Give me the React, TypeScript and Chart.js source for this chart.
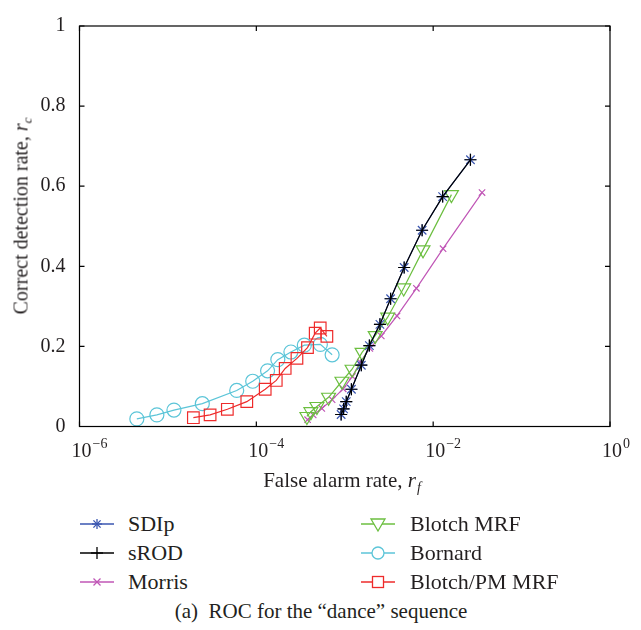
import React, { useEffect, useRef } from "react";
import { Chart, registerables } from "chart.js";

Chart.register(...registerables);

// ---- data ----
const xTickValues = [1e-6, 1e-4, 1e-2, 1];
const xTickExponents = ["\u22126", "\u22124", "\u22122", "0"];
const yTickValues = [0, 0.2, 0.4, 0.6, 0.8, 1];
const yTickLabels = ["0", "0.2", "0.4", "0.6", "0.8", "1"];

const sdipX = [0.00091, 0.00097, 0.00104, 0.00119, 0.00154, 0.0019, 0.0025, 0.0033, 0.0047, 0.0075, 0.0128, 0.0264];
const sdipY = [0.030, 0.044, 0.062, 0.093, 0.153, 0.202, 0.255, 0.319, 0.397, 0.490, 0.574, 0.666];

const srodX = [0.00091, 0.00097, 0.00104, 0.00119, 0.00154, 0.0019, 0.0025, 0.0033, 0.0047, 0.0075, 0.0128, 0.0264];
const srodY = [0.030, 0.044, 0.062, 0.093, 0.153, 0.202, 0.255, 0.319, 0.397, 0.490, 0.574, 0.666];

const morrisX = [0.00038, 0.00044, 0.00055, 0.00072, 0.00096, 0.00122, 0.0015, 0.00192, 0.00259, 0.0039, 0.00646, 0.01294, 0.0357];
const morrisY = [0.017, 0.029, 0.045, 0.067, 0.094, 0.125, 0.161, 0.195, 0.226, 0.276, 0.345, 0.444, 0.584];

const blotchX = [0.000373, 0.000414, 0.000484, 0.000656, 0.00093, 0.00121, 0.00157, 0.00221, 0.00306, 0.00464, 0.00768, 0.0161];
const blotchY = [0.025, 0.037, 0.050, 0.073, 0.113, 0.143, 0.185, 0.227, 0.273, 0.346, 0.441, 0.579];

const bornardX = [4.45e-6, 7.5e-6, 1.17e-5, 2.45e-5, 6.0e-5, 9.1e-5, 1.34e-4, 1.75e-4, 2.46e-4, 3.49e-4, 5.3e-4, 7.2e-4];
const bornardY = [0.019, 0.029, 0.041, 0.057, 0.090, 0.113, 0.139, 0.167, 0.186, 0.203, 0.205, 0.179];

const pmX = [1.94e-5, 3.0e-5, 4.7e-5, 7.8e-5, 1.26e-4, 1.68e-4, 2.12e-4, 2.88e-4, 3.79e-4, 4.63e-4, 5.28e-4, 6.28e-4];
const pmY = [0.022, 0.029, 0.043, 0.062, 0.093, 0.115, 0.145, 0.170, 0.197, 0.233, 0.246, 0.225];

const C_SDIP = "#3a56b0";
const C_SROD = "#000000";
const C_MORRIS = "#c056b6";
const C_BLOTCH = "#6cbf40";
const C_BORNARD = "#5cc5d8";
const C_PM = "#ee2b2b";

const FONT = "'Liberation Serif', 'DejaVu Serif', serif";
const TEXT = "#231f20";

const pts = (xs: number[], ys: number[]) => xs.map((x, i) => ({ x, y: ys[i] }));

const framePlugin = {
  id: "frame",
  afterDraw(chart: any) {
    const { ctx, chartArea: a, scales } = chart;
    ctx.save();
    ctx.strokeStyle = "#000";
    ctx.lineWidth = 1.2;
    ctx.strokeRect(a.left, a.top, a.right - a.left, a.bottom - a.top);
    const L = 5;
    ctx.beginPath();
    xTickValues.forEach((v) => {
      const px = scales.x.getPixelForValue(v);
      ctx.moveTo(px, a.bottom);
      ctx.lineTo(px, a.bottom - L);
      ctx.moveTo(px, a.top);
      ctx.lineTo(px, a.top + L);
    });
    yTickValues.forEach((v) => {
      const py = scales.y.getPixelForValue(v);
      ctx.moveTo(a.left, py);
      ctx.lineTo(a.left + L, py);
      ctx.moveTo(a.right, py);
      ctx.lineTo(a.right - L, py);
    });
    ctx.stroke();
    // x tick labels with superscript exponents
    ctx.fillStyle = TEXT;
    ctx.textBaseline = "alphabetic";
    xTickValues.forEach((v, i) => {
      const px = scales.x.getPixelForValue(v);
      ctx.font = `20px ${FONT}`;
      const bw = ctx.measureText("10").width;
      const bx = px - bw / 2 + 2;
      const by = a.bottom + 30;
      ctx.textAlign = "left";
      ctx.fillText("10", bx, by);
      ctx.font = `14px ${FONT}`;
      ctx.fillText(xTickExponents[i], bx + bw + 1, by - 9);
    });
    ctx.restore();
  },
};

function LegendMark({ kind, color }: { kind: string; color: string }) {
  const cx = 17, cy = 10;
  let m: any = null;
  if (kind === "star") {
    m = (
      <g stroke={color} strokeWidth={1.3}>
        <line x1={cx - 5} y1={cy} x2={cx + 5} y2={cy} />
        <line x1={cx} y1={cy - 5} x2={cx} y2={cy + 5} />
        <line x1={cx - 3.6} y1={cy - 3.6} x2={cx + 3.6} y2={cy + 3.6} />
        <line x1={cx - 3.6} y1={cy + 3.6} x2={cx + 3.6} y2={cy - 3.6} />
      </g>
    );
  } else if (kind === "plus") {
    m = (
      <g stroke={color} strokeWidth={1.3}>
        <line x1={cx - 6} y1={cy} x2={cx + 6} y2={cy} />
        <line x1={cx} y1={cy - 6} x2={cx} y2={cy + 6} />
      </g>
    );
  } else if (kind === "x") {
    m = (
      <g stroke={color} strokeWidth={1.3}>
        <line x1={cx - 3.5} y1={cy - 3.5} x2={cx + 3.5} y2={cy + 3.5} />
        <line x1={cx - 3.5} y1={cy + 3.5} x2={cx + 3.5} y2={cy - 3.5} />
      </g>
    );
  } else if (kind === "tri") {
    m = <polygon points={`${cx - 7},${cy - 5} ${cx + 7},${cy - 5} ${cx},${cy + 7}`} fill="#fff" stroke={color} strokeWidth={1.3} />;
  } else if (kind === "circle") {
    m = <circle cx={cx} cy={cy} r={6} fill="#fff" stroke={color} strokeWidth={1.3} />;
  } else if (kind === "square") {
    m = <rect x={cx - 5.5} y={cy - 5.5} width={11} height={11} fill="#fff" stroke={color} strokeWidth={1.3} />;
  }
  return (
    <svg width={36} height={20} style={{ display: "block" }}>
      <line x1={0} y1={cy} x2={34} y2={cy} stroke={color} strokeWidth={1.5} />
      {m}
    </svg>
  );
}

const legendItems = [
  { label: "SDIp", kind: "star", color: C_SDIP, col: 0, row: 0 },
  { label: "sROD", kind: "plus", color: C_SROD, col: 0, row: 1 },
  { label: "Morris", kind: "x", color: C_MORRIS, col: 0, row: 2 },
  { label: "Blotch MRF", kind: "tri", color: C_BLOTCH, col: 1, row: 0 },
  { label: "Bornard", kind: "circle", color: C_BORNARD, col: 1, row: 1 },
  { label: "Blotch/PM MRF", kind: "square", color: C_PM, col: 1, row: 2 },
];

export default function App() {
  const ref = useRef<HTMLCanvasElement | null>(null);

  useEffect(() => {
    if (!ref.current) return;
    const common = { showLine: true, borderWidth: 1.2, pointBorderWidth: 1.2, pointBackgroundColor: "rgba(0,0,0,0)", pointHoverRadius: 0 };
    const chart = new Chart(ref.current, {
      type: "scatter",
      data: {
        datasets: [
          { ...common, label: "sROD", data: pts(srodX, srodY), borderColor: C_SROD, pointBorderColor: C_SROD, pointStyle: "cross", pointRadius: 6, order: 0 },
          { ...common, label: "SDIp", data: pts(sdipX, sdipY), borderColor: C_SDIP, pointBorderColor: C_SDIP, pointStyle: "star", pointRadius: 6, order: 1 },
          { ...common, label: "Morris", data: pts(morrisX, morrisY), borderColor: C_MORRIS, pointBorderColor: C_MORRIS, pointStyle: "crossRot", pointRadius: 4.5, order: 4 },
          { ...common, label: "Blotch MRF", data: pts(blotchX, blotchY), borderColor: C_BLOTCH, pointBorderColor: C_BLOTCH, pointStyle: "triangle", pointRotation: 180, pointRadius: 8, order: 3 },
          { ...common, label: "Bornard", data: pts(bornardX, bornardY), borderColor: C_BORNARD, pointBorderColor: C_BORNARD, pointStyle: "circle", pointRadius: 7, order: 6 },
          { ...common, label: "Blotch/PM MRF", data: pts(pmX, pmY), borderColor: C_PM, pointBorderColor: C_PM, pointStyle: "rect", pointRadius: 8.2, order: 5 },
        ] as any,
      },
      options: {
        animation: false,
        responsive: false,
        events: [],
        layout: { autoPadding: false, padding: { left: 0, top: 11, right: 31, bottom: 0 } } as any,
        plugins: { legend: { display: false }, tooltip: { enabled: false } },
        scales: {
          x: {
            type: "logarithmic",
            min: 1e-6,
            max: 1,
            grid: { display: false, drawTicks: false },
            border: { display: false },
            ticks: { display: false },
            afterBuildTicks: (s: any) => {
              s.ticks = xTickValues.map((v) => ({ value: v }));
            },
            afterFit: (s: any) => {
              s.height = 53.5;
            },
          },
          y: {
            type: "linear",
            min: 0,
            max: 1,
            grid: { display: false, drawTicks: false },
            border: { display: false },
            afterBuildTicks: (s: any) => {
              s.ticks = yTickValues.map((v) => ({ value: v }));
            },
            ticks: {
              padding: 14,
              color: TEXT,
              font: { family: FONT, size: 20 },
              callback: (v: any) => {
                const i = yTickValues.findIndex((t) => Math.abs(t - Number(v)) < 1e-9);
                return i >= 0 ? yTickLabels[i] : "";
              },
            },
            afterFit: (s: any) => {
              s.width = 79.5;
            },
          },
        },
      } as any,
      plugins: [framePlugin],
    });
    return () => chart.destroy();
  }, []);

  const colLine = [80, 361];
  const colText = [128, 410];
  const rowY = [524, 553, 582];

  return (
    <div style={{ position: "absolute", left: 0, top: 0, width: 641, height: 630, background: "#fff", fontFamily: FONT, color: TEXT }}>
      <canvas ref={ref} width={641} height={480} style={{ position: "absolute", left: 0, top: 0, width: 641, height: 480 }} />
      <div
        style={{
          position: "absolute",
          left: 22,
          top: 216,
          transform: "translate(-50%, -50%) rotate(-90deg)",
          whiteSpace: "nowrap",
          fontSize: 20,
          lineHeight: "22px",
        }}
      >
        Correct detection rate, <i>r</i>
        <i style={{ fontSize: 13, position: "relative", top: 4 }}>c</i>
      </div>
      <div
        style={{
          position: "absolute",
          left: 342,
          top: 481,
          transform: "translate(-50%, -50%)",
          whiteSpace: "nowrap",
          fontSize: 21,
          lineHeight: "22px",
        }}
      >
        False alarm rate, <i>r</i>
        <i style={{ fontSize: 14, position: "relative", top: 5, marginLeft: 1 }}>f</i>
      </div>
      {legendItems.map((it) => (
        <React.Fragment key={it.label}>
          <div style={{ position: "absolute", left: colLine[it.col], top: rowY[it.row] - 10 }}>
            <LegendMark kind={it.kind} color={it.color} />
          </div>
          <div
            style={{
              position: "absolute",
              left: colText[it.col],
              top: rowY[it.row] - 12,
              fontSize: 22,
              lineHeight: "24px",
              whiteSpace: "nowrap",
            }}
          >
            {it.label}
          </div>
        </React.Fragment>
      ))}
      <div
        style={{
          position: "absolute",
          left: 321,
          top: 611,
          transform: "translate(-50%, -50%)",
          whiteSpace: "nowrap",
          fontSize: 21,
          lineHeight: "22px",
        }}
      >
        (a)&nbsp; ROC for the “dance” sequence
      </div>
    </div>
  );
}
